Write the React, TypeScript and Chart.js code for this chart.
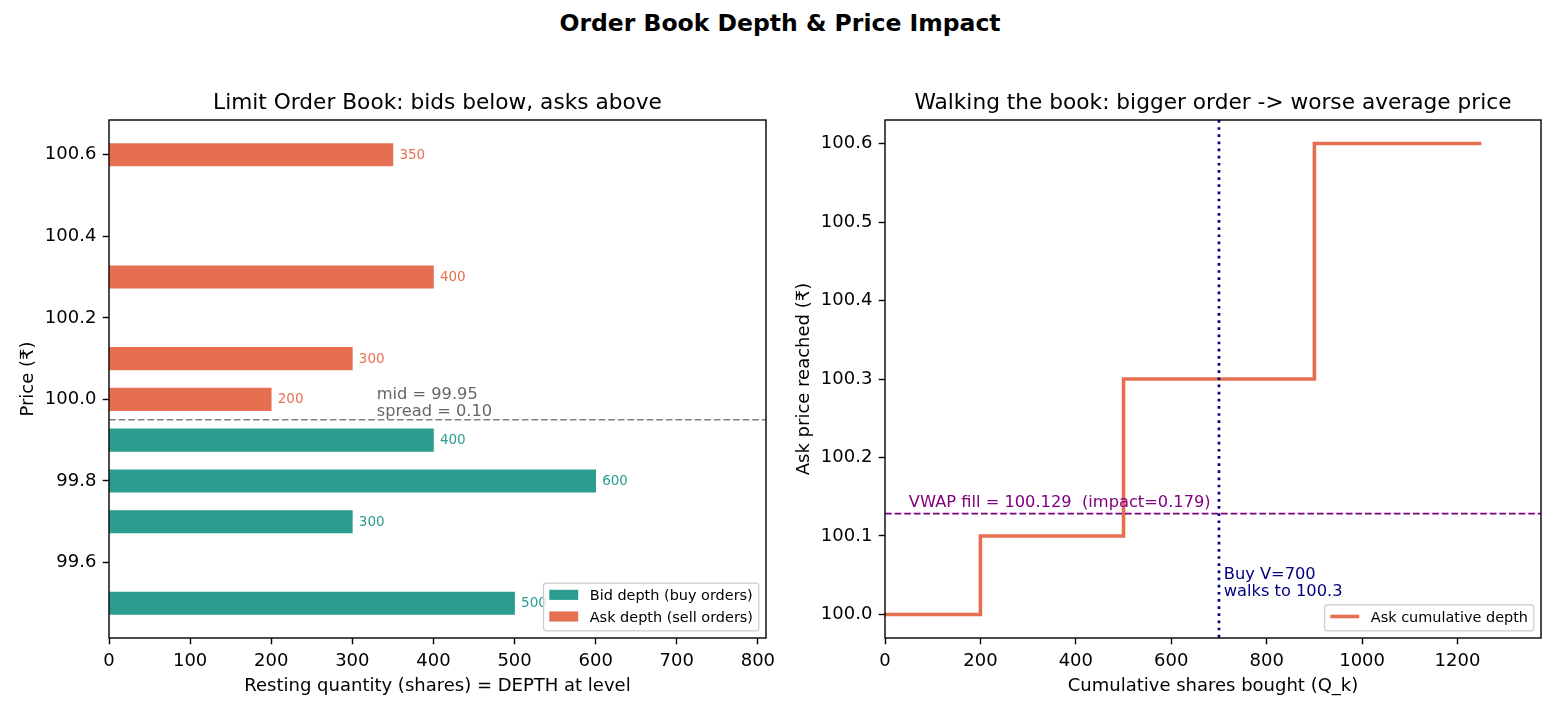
import React, { useEffect, useRef } from "react";
import { Chart, registerables } from "chart.js";

Chart.register(...registerables);

const FONT = "'DejaVu Sans', 'Liberation Sans', sans-serif";

// Resting limit orders on each side of the book
const bidPrices = [99.9, 99.8, 99.7, 99.5];
const bidSizes = [400, 600, 300, 500];
const askPrices = [100.0, 100.1, 100.3, 100.6];
const askSizes = [200, 300, 400, 350];

// Size of the market buy that walks the ask side
const buyVolume = 700;

// Tick values
const depthTicks = [0, 100, 200, 300, 400, 500, 600, 700, 800];
const bookPriceTicks = [99.6, 99.8, 100.0, 100.2, 100.4, 100.6];
const sharesTicks = [0, 200, 400, 600, 800, 1000, 1200];
const reachedTicks = [100.0, 100.1, 100.2, 100.3, 100.4, 100.5, 100.6];

const BID_COLOR = "#2a9d8f";
const ASK_COLOR = "#e76f51";

// Page / panel geometry
const PAGE_W = 1560;
const PAGE_H = 715;
const PANEL_W = 780;
const PLOT_TOP = 120;
const PLOT_BOTTOM = 638;
const LEFT_PLOT_L = 109;
const LEFT_PLOT_R = 766;
const RIGHT_PLOT_L = 885 - PANEL_W;
const RIGHT_PLOT_R = 1541 - PANEL_W;

// Font sizes (px)
const TICK_PX = 18;
const LABEL_PX = 18;
const TITLE_PX = 21.7;
const ANNOT_PX = 16.25;
const VALUE_PX = 13.5;
const LEGEND_PX = 14.44;
const SUPTITLE_PX = 23.5;

const TICK_LEN = 6.3;
const TICK_PAD = 6.3;

// ---- derived book quantities ----
const bestBid = Math.max(...bidPrices);
const bestAsk = Math.min(...askPrices);
const mid = (bestBid + bestAsk) / 2;
const spread = bestAsk - bestBid;

const cumShares: number[] = askSizes.reduce(
  (acc: number[], s) => [...acc, acc[acc.length - 1] + s],
  [0]
);

let remaining = buyVolume;
let cost = 0;
let lastHit = askPrices[0];
askPrices.forEach((p, i) => {
  const take = Math.min(remaining, askSizes[i]);
  if (take > 0) {
    cost += take * p;
    remaining -= take;
    lastHit = p;
  }
});
const vwap = cost / buyVolume;
const impact = vwap - mid;

// ---- axis ranges ----
const BAR_HEIGHT = 0.055;
const allPrices = [...bidPrices, ...askPrices];
const depthMax = Math.max(...bidSizes, ...askSizes) * 1.35;
const bookLo0 = Math.min(...allPrices) - BAR_HEIGHT / 2;
const bookHi0 = Math.max(...allPrices) + BAR_HEIGHT / 2;
const bookLo = bookLo0 - 0.05 * (bookHi0 - bookLo0);
const bookHi = bookHi0 + 0.05 * (bookHi0 - bookLo0);
const barPx = (BAR_HEIGHT * (PLOT_BOTTOM - PLOT_TOP)) / (bookHi - bookLo);

const sharesMax = cumShares[cumShares.length - 1] * 1.1;
const reachLo0 = Math.min(...askPrices);
const reachHi0 = Math.max(...askPrices);
const reachLo = reachLo0 - 0.05 * (reachHi0 - reachLo0);
const reachHi = reachHi0 + 0.05 * (reachHi0 - reachLo0);

const stepPoints = [
  ...askPrices.map((p, i) => ({ x: cumShares[i], y: p })),
  { x: cumShares[cumShares.length - 1], y: askPrices[askPrices.length - 1] },
];

function axis(
  min: number,
  max: number,
  ticks: number[],
  fmt: (v: number) => string,
  fixed: { width?: number; height?: number }
) {
  return {
    type: "linear" as const,
    min,
    max,
    offset: false,
    afterBuildTicks: (scale: any) => {
      scale.ticks = ticks.map((v) => ({ value: v }));
    },
    afterFit: (scale: any) => {
      if (fixed.width !== undefined) scale.width = fixed.width;
      if (fixed.height !== undefined) scale.height = fixed.height;
      scale.paddingLeft = 0;
      scale.paddingRight = 0;
      scale.paddingTop = 0;
      scale.paddingBottom = 0;
    },
    ticks: {
      autoSkip: false,
      maxRotation: 0,
      minRotation: 0,
      padding: TICK_PAD,
      color: "#000",
      font: { family: FONT, size: TICK_PX },
      callback: (v: any) => fmt(Number(v)),
    },
    grid: {
      display: true,
      offset: false,
      drawOnChartArea: false,
      drawTicks: true,
      tickLength: TICK_LEN,
      tickWidth: 1.4,
      tickColor: "#000",
      color: "#000",
    },
    border: { display: false },
  };
}

type LegendItem = { label: string; color: string; kind: "patch" | "line" };

function drawLegend(ctx: CanvasRenderingContext2D, a: any, items: LegendItem[]) {
  const fs = LEGEND_PX;
  ctx.save();
  ctx.font = `${fs}px ${FONT}`;
  const pad = 0.4 * fs;
  const handleLen = 2 * fs;
  const handlePad = 0.8 * fs;
  const spacing = 0.5 * fs;
  const rowH = fs;
  const axPad = 0.5 * fs;
  const textW = Math.max(...items.map((it) => ctx.measureText(it.label).width));
  const w = 2 * pad + handleLen + handlePad + textW;
  const h = 2 * pad + items.length * rowH + (items.length - 1) * spacing;
  const right = a.right - axPad;
  const bottom = a.bottom - axPad;
  const left = right - w;
  const top = bottom - h;
  const r = 0.2 * fs;
  ctx.beginPath();
  ctx.roundRect(left, top, w, h, r);
  ctx.fillStyle = "rgba(255,255,255,0.8)";
  ctx.fill();
  ctx.strokeStyle = "#cccccc";
  ctx.lineWidth = 1.2;
  ctx.stroke();
  items.forEach((it, i) => {
    const baseline = top + pad + i * (rowH + spacing) + 0.76 * fs;
    const hx = left + pad;
    if (it.kind === "patch") {
      ctx.fillStyle = it.color;
      ctx.fillRect(hx, baseline - 0.7 * fs, handleLen, 0.7 * fs);
    } else {
      ctx.strokeStyle = it.color;
      ctx.lineWidth = 3.6;
      ctx.beginPath();
      ctx.moveTo(hx, baseline - 0.35 * fs);
      ctx.lineTo(hx + handleLen, baseline - 0.35 * fs);
      ctx.stroke();
    }
    ctx.fillStyle = "#000";
    ctx.textAlign = "left";
    ctx.textBaseline = "alphabetic";
    ctx.fillText(it.label, hx + handleLen + handlePad, baseline);
  });
  ctx.restore();
}

function drawFrameAndLabels(
  chart: any,
  title: string,
  xLabel: string,
  yLabel: string,
  yFmt: (v: number) => string,
  yTicks: number[]
) {
  const { ctx, chartArea: a } = chart;
  ctx.save();
  // spines
  ctx.strokeStyle = "#000";
  ctx.lineWidth = 1.4;
  ctx.strokeRect(a.left, a.top, a.right - a.left, a.bottom - a.top);
  // title
  ctx.fillStyle = "#000";
  ctx.font = `${TITLE_PX}px ${FONT}`;
  ctx.textAlign = "center";
  ctx.textBaseline = "alphabetic";
  ctx.fillText(title, (a.left + a.right) / 2, a.top - 10.8);
  // x label
  ctx.font = `${LABEL_PX}px ${FONT}`;
  const xBase = a.bottom + TICK_LEN + TICK_PAD + TICK_PX + 7.2 + 0.76 * LABEL_PX + 2;
  ctx.fillText(xLabel, (a.left + a.right) / 2, xBase);
  // y label
  ctx.font = `${TICK_PX}px ${FONT}`;
  const maxTickW = Math.max(...yTicks.map((v) => ctx.measureText(yFmt(v)).width));
  const yBase = a.left - TICK_LEN - TICK_PAD - maxTickW - 7.2 - 0.24 * LABEL_PX;
  ctx.font = `${LABEL_PX}px ${FONT}`;
  ctx.translate(yBase, (a.top + a.bottom) / 2);
  ctx.rotate(-Math.PI / 2);
  ctx.fillText(yLabel, 0, 0);
  ctx.restore();
}

const bookFmt = (v: number) => v.toFixed(1);
const intFmt = (v: number) => String(Math.round(v));

const bookDecor = {
  id: "bookDecor",
  afterDatasetsDraw(chart: any) {
    const { ctx, chartArea: a, scales } = chart;
    const x = scales.x;
    const y = scales.y;
    ctx.save();
    // depth labels beside each bar
    ctx.font = `${VALUE_PX}px ${FONT}`;
    ctx.textAlign = "left";
    ctx.textBaseline = "middle";
    const label = (prices: number[], sizes: number[], color: string) => {
      ctx.fillStyle = color;
      prices.forEach((p, i) => {
        ctx.fillText(String(sizes[i]), x.getPixelForValue(sizes[i] + 8), y.getPixelForValue(p) + 0.5);
      });
    };
    label(bidPrices, bidSizes, BID_COLOR);
    label(askPrices, askSizes, ASK_COLOR);

    // mid-price line
    const ym = y.getPixelForValue(mid);
    ctx.strokeStyle = "#808080";
    ctx.lineWidth = 1.5;
    ctx.setLineDash([6.7, 2.9]);
    ctx.beginPath();
    ctx.moveTo(a.left, ym);
    ctx.lineTo(a.right, ym);
    ctx.stroke();
    ctx.setLineDash([]);

    ctx.font = `${ANNOT_PX}px ${FONT}`;
    ctx.fillStyle = "#666666";
    ctx.textBaseline = "alphabetic";
    const tx = x.getPixelForValue(Math.max(...bidSizes, ...askSizes) * 0.55);
    ctx.fillText(`spread = ${spread.toFixed(2)}`, tx, ym - 4);
    ctx.fillText(`mid = ${mid.toFixed(2)}`, tx, ym - 4 - 16.5);
    ctx.restore();
  },
  afterDraw(chart: any) {
    drawLegend(chart.ctx, chart.chartArea, [
      { label: "Bid depth (buy orders)", color: BID_COLOR, kind: "patch" },
      { label: "Ask depth (sell orders)", color: ASK_COLOR, kind: "patch" },
    ]);
    drawFrameAndLabels(
      chart,
      "Limit Order Book: bids below, asks above",
      "Resting quantity (shares) = DEPTH at level",
      "Price (\u20b9)",
      bookFmt,
      bookPriceTicks
    );
  },
};

const walkDecor = {
  id: "walkDecor",
  afterDatasetsDraw(chart: any) {
    const { ctx, chartArea: a, scales } = chart;
    const x = scales.x;
    const y = scales.y;
    ctx.save();
    // VWAP of the fill
    const yv = y.getPixelForValue(vwap);
    ctx.strokeStyle = "#800080";
    ctx.lineWidth = 1.8;
    ctx.setLineDash([6.7, 2.9]);
    ctx.beginPath();
    ctx.moveTo(a.left, yv);
    ctx.lineTo(a.right, yv);
    ctx.stroke();

    // order size marker
    const xv = x.getPixelForValue(buyVolume);
    ctx.strokeStyle = "#000080";
    ctx.lineWidth = 2.7;
    ctx.lineCap = "butt";
    ctx.setLineDash([2.7, 4.45]);
    ctx.beginPath();
    ctx.moveTo(xv, a.top);
    ctx.lineTo(xv, a.bottom);
    ctx.stroke();
    ctx.setLineDash([]);

    ctx.font = `${ANNOT_PX}px ${FONT}`;
    ctx.textAlign = "left";
    ctx.textBaseline = "alphabetic";
    ctx.fillStyle = "#800080";
    ctx.fillText(
      `VWAP fill = ${vwap.toFixed(3)}  (impact=${impact.toFixed(3)})`,
      x.getPixelForValue(50),
      yv - 7
    );
    ctx.fillStyle = "#000080";
    const by = y.getPixelForValue(reachLo0 + 0.02) - 2.5;
    const bx = x.getPixelForValue(buyVolume + 10);
    ctx.fillText(`walks to ${lastHit.toFixed(1)}`, bx, by);
    ctx.fillText(`Buy V=${buyVolume}`, bx, by - 17);
    ctx.restore();
  },
  afterDraw(chart: any) {
    drawLegend(chart.ctx, chart.chartArea, [
      { label: "Ask cumulative depth", color: ASK_COLOR, kind: "line" },
    ]);
    drawFrameAndLabels(
      chart,
      "Walking the book: bigger order -> worse average price",
      "Cumulative shares bought (Q_k)",
      "Ask price reached (\u20b9)",
      bookFmt,
      reachedTicks
    );
  },
};

export default function App() {
  const leftRef = useRef<HTMLCanvasElement>(null);
  const rightRef = useRef<HTMLCanvasElement>(null);

  useEffect(() => {
    if (!leftRef.current || !rightRef.current) return;
    const xAxisH = PAGE_H - PLOT_BOTTOM;

    const book = new Chart(leftRef.current, {
      type: "bar",
      data: {
        datasets: [
          {
            label: "Bid depth (buy orders)",
            data: bidPrices.map((p, i) => ({ x: bidSizes[i], y: p })),
            backgroundColor: BID_COLOR,
            barThickness: barPx,
            grouped: false,
          } as any,
          {
            label: "Ask depth (sell orders)",
            data: askPrices.map((p, i) => ({ x: askSizes[i], y: p })),
            backgroundColor: ASK_COLOR,
            barThickness: barPx,
            grouped: false,
          } as any,
        ],
      },
      options: {
        indexAxis: "y",
        responsive: false,
        animation: false,
        devicePixelRatio: 1,
        events: [],
        layout: {
          padding: { left: 0, top: PLOT_TOP, right: PANEL_W - LEFT_PLOT_R, bottom: 0 },
        },
        plugins: {
          legend: { display: false },
          tooltip: { enabled: false },
          title: { display: false },
        },
        scales: {
          x: axis(0, depthMax, depthTicks, intFmt, { height: xAxisH }) as any,
          y: axis(bookLo, bookHi, bookPriceTicks, bookFmt, { width: LEFT_PLOT_L }) as any,
        },
      },
      plugins: [bookDecor],
    });

    const walk = new Chart(rightRef.current, {
      type: "line",
      data: {
        datasets: [
          {
            label: "Ask cumulative depth",
            data: stepPoints,
            stepped: "before",
            borderColor: ASK_COLOR,
            borderWidth: 3.6,
            borderCapStyle: "butt",
            borderJoinStyle: "miter",
            pointRadius: 0,
            fill: false,
          } as any,
        ],
      },
      options: {
        responsive: false,
        animation: false,
        devicePixelRatio: 1,
        events: [],
        layout: {
          padding: { left: 0, top: PLOT_TOP, right: PANEL_W - RIGHT_PLOT_R, bottom: 0 },
        },
        plugins: {
          legend: { display: false },
          tooltip: { enabled: false },
          title: { display: false },
        },
        scales: {
          x: axis(0, sharesMax, sharesTicks, intFmt, { height: xAxisH }) as any,
          y: axis(reachLo, reachHi, reachedTicks, bookFmt, { width: RIGHT_PLOT_L }) as any,
        },
      },
      plugins: [walkDecor],
    });

    return () => {
      book.destroy();
      walk.destroy();
    };
  }, []);

  return (
    <div
      style={{
        position: "absolute",
        left: 0,
        top: 0,
        width: PAGE_W,
        height: PAGE_H,
        background: "#fff",
      }}
    >
      <div
        style={{
          position: "absolute",
          left: 0,
          top: 12,
          width: PAGE_W,
          textAlign: "center",
          fontFamily: FONT,
          fontWeight: "bold",
          fontSize: SUPTITLE_PX,
          lineHeight: `${SUPTITLE_PX}px`,
          color: "#000",
        }}
      >
        Order Book Depth &amp; Price Impact
      </div>
      <canvas
        ref={leftRef}
        width={PANEL_W}
        height={PAGE_H}
        style={{ position: "absolute", left: 0, top: 0, width: PANEL_W, height: PAGE_H }}
      />
      <canvas
        ref={rightRef}
        width={PANEL_W}
        height={PAGE_H}
        style={{ position: "absolute", left: PANEL_W, top: 0, width: PANEL_W, height: PAGE_H }}
      />
    </div>
  );
}
